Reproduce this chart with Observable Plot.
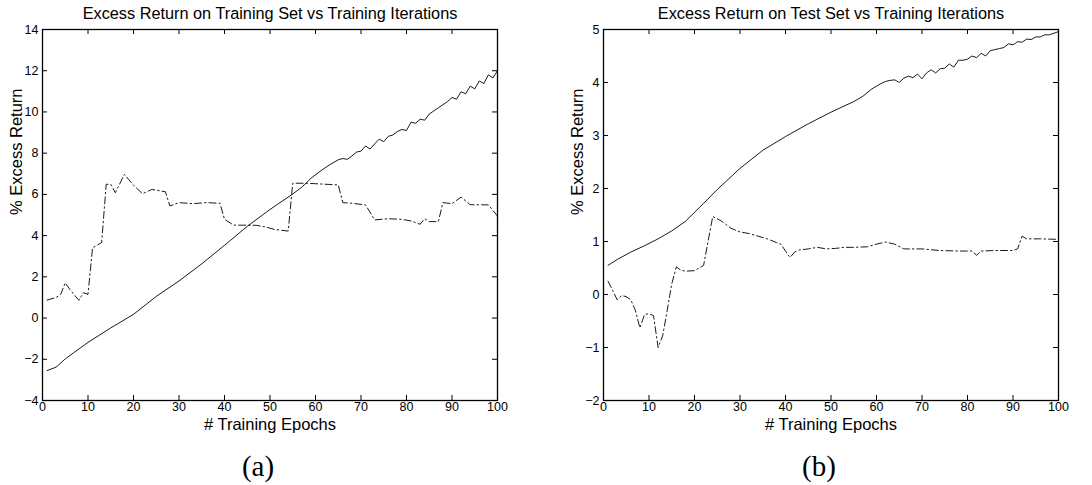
<!DOCTYPE html>
<html>
<head>
<meta charset="utf-8">
<script src="https://cdn.jsdelivr.net/npm/d3@7"></script>
<script src="https://cdn.jsdelivr.net/npm/@observablehq/plot@0.6"></script>
<style>
  body { margin: 0; background: #fff; }
  #wrap { display: flex; width: 1092px; height: 485px; }
  #wrap > div { width: 546px; height: 485px; }
</style>
</head>
<body>
<div id="wrap"><div id="a"></div><div id="b"></div></div>
<script>
// ---- Data ----
const xTicks = [0, 10, 20, 30, 40, 50, 60, 70, 80, 90, 100];
const yTicksTrain = [-4, -2, 0, 2, 4, 6, 8, 10, 12, 14];
const yTicksTest = [-2, -1, 0, 1, 2, 3, 4, 5];

const titleTrain = "Excess Return on Training Set vs Training Iterations";
const titleTest = "Excess Return on Test Set vs Training Iterations";
const xLabel = "# Training Epochs";
const yLabel = "% Excess Return";
const captions = ["(a)", "(b)"];

// (a) training set — solid line
const trainSolidEpoch = [1,3,5,8,10,15,20,25,30,35,40,45,50,55,57,59,61,63,65,66,67,68,69,70,71,72,73,74,75,76,77,78,79,80,81,82,83,84,85,86,87,88,89,90,91,92,93,94,95,96,97,98,99,100];
const trainSolidValue = [-2.55,-2.38,-1.98,-1.5,-1.18,-0.48,0.18,1.05,1.8,2.63,3.53,4.45,5.27,6.02,6.35,6.78,7.12,7.42,7.68,7.74,7.7,7.86,8.05,8.1,8.35,8.2,8.45,8.68,8.56,8.82,8.88,9.05,9.15,9.1,9.5,9.45,9.65,9.6,9.9,10.05,10.2,10.35,10.5,10.7,10.62,10.98,10.88,11.25,11.12,11.5,11.38,11.8,11.65,12.0];
// (a) training set — dash-dot line
const trainDashEpoch = [1,3,4,5,6,8,9,10,11,13,14,15,16,18,20,22,24,27,28,30,33,36,39,40,42,47,49,51,54,55,58,65,66,68,71,73,76,79,81,83,84,85,87,88,90,92,94,98,100];
const trainDashValue = [0.87,1.0,1.15,1.71,1.39,0.86,1.23,1.15,3.41,3.66,6.49,6.49,6.08,6.97,6.44,6.03,6.24,6.13,5.44,5.6,5.55,5.6,5.57,4.79,4.51,4.5,4.42,4.3,4.22,6.54,6.54,6.46,5.6,5.57,5.49,4.76,4.82,4.79,4.71,4.55,4.82,4.68,4.68,5.6,5.55,5.87,5.5,5.49,4.95];

// (b) test set — solid line
const testSolidEpoch = [1,3,6,9,12,15,18,22,25,30,35,40,45,50,55,57,59,61,62,63,64,65,66,67,68,69,70,71,72,73,74,75,76,77,78,79,80,81,82,83,84,85,86,87,88,89,90,91,92,93,94,95,96,97,98,99,100];
const testSolidValue = [0.55,0.66,0.8,0.92,1.05,1.2,1.38,1.72,1.98,2.38,2.72,2.98,3.22,3.44,3.64,3.74,3.88,3.98,4.02,4.04,4.05,4.0,4.08,4.12,4.09,4.16,4.07,4.18,4.24,4.18,4.26,4.27,4.35,4.29,4.42,4.42,4.44,4.5,4.47,4.55,4.5,4.6,4.62,4.64,4.66,4.73,4.71,4.77,4.76,4.82,4.81,4.86,4.86,4.9,4.9,4.93,4.96];
// (b) test set — dash-dot line
const testDashEpoch = [1,2,3,4,5,6,7,8,9,10,11,12,13,14,15,16,17,18,20,22,24,25,26,28,30,32,34,36,38,39,40,41,42,43,45,47,49,51,53,55,58,60,62,64,66,70,74,78,81,82,83,86,90,91,92,93,96,100];
const testDashValue = [0.25,0.08,-0.1,-0.02,-0.04,-0.1,-0.3,-0.63,-0.38,-0.36,-0.4,-1.0,-0.78,-0.3,0.2,0.52,0.46,0.44,0.45,0.55,1.47,1.43,1.38,1.25,1.18,1.15,1.1,1.05,0.98,0.95,0.82,0.7,0.8,0.84,0.86,0.89,0.86,0.87,0.89,0.89,0.9,0.95,0.99,0.95,0.86,0.86,0.83,0.82,0.82,0.74,0.82,0.83,0.83,0.86,1.1,1.05,1.05,1.04];

// ---- Build ----
const zip = (xs, ys) => xs.map((x, i) => ({epoch: x, value: ys[i]}));
const FONT = "'Liberation Sans', Arial, Helvetica, sans-serif";
const fmt = d => (d < 0 ? "\u2212" + (-d) : String(d));

function panel({title, yDomain, yTicks, solid, dash, caption, marginLeft, marginRight}) {
  const width = 546, height = 485, mt = 29, mb = 85;
  const iw = width - marginLeft - marginRight, ih = height - mt - mb;
  const tick = 5;
  return Plot.plot({
    width, height,
    marginTop: mt, marginBottom: mb, marginLeft, marginRight,
    style: {fontFamily: FONT, fontSize: "12.5px", color: "#000", background: "#fff", overflow: "visible"},
    x: {domain: [0, 100]},
    y: {domain: yDomain},
    marks: [
      Plot.line(dash, {x: "epoch", y: "value", stroke: "#000", strokeWidth: 0.9, strokeDasharray: "7,3,1.5,3"}),
      Plot.line(solid, {x: "epoch", y: "value", stroke: "#000", strokeWidth: 0.9}),
      Plot.tickX(xTicks, {x: d => d, insetTop: ih - tick, stroke: "#000"}),
      Plot.tickX(xTicks, {x: d => d, insetBottom: ih - tick, stroke: "#000"}),
      Plot.tickY(yTicks, {y: d => d, insetRight: iw - tick, stroke: "#000"}),
      Plot.tickY(yTicks, {y: d => d, insetLeft: iw - tick, stroke: "#000"}),
      Plot.frame({stroke: "#000", strokeWidth: 1.3}),
      Plot.axisX(xTicks, {tickSize: 0, tickPadding: 2, label: null, fontSize: 12.5, tickFormat: fmt}),
      Plot.axisY(yTicks, {tickSize: 0, tickPadding: 4, label: null, fontSize: 12.5, tickFormat: fmt}),
      Plot.text([title], {frameAnchor: "top", dy: -16, fontSize: 16.3, lineAnchor: "middle"}),
      Plot.text([xLabel], {frameAnchor: "bottom", dy: 24, fontSize: 16.5, lineAnchor: "middle"}),
      Plot.text([yLabel], {frameAnchor: "left", dx: -26, rotate: -90, fontSize: 16.5, lineAnchor: "middle"}),
      Plot.text([caption], {frameAnchor: "bottom", dy: 66, dx: -12, fontSize: 29, lineAnchor: "middle", fontFamily: "'Liberation Serif', 'DejaVu Serif', serif"})
    ]
  });
}

document.getElementById("a").append(panel({
  title: titleTrain, yDomain: [-4, 14], yTicks: yTicksTrain,
  solid: zip(trainSolidEpoch, trainSolidValue), dash: zip(trainDashEpoch, trainDashValue),
  caption: captions[0], marginLeft: 42, marginRight: 49
}));
document.getElementById("b").append(panel({
  title: titleTest, yDomain: [-2, 5], yTicks: yTicksTest,
  solid: zip(testSolidEpoch, testSolidValue), dash: zip(testDashEpoch, testDashValue),
  caption: captions[1], marginLeft: 57, marginRight: 34
}));
</script>
</body>
</html>
